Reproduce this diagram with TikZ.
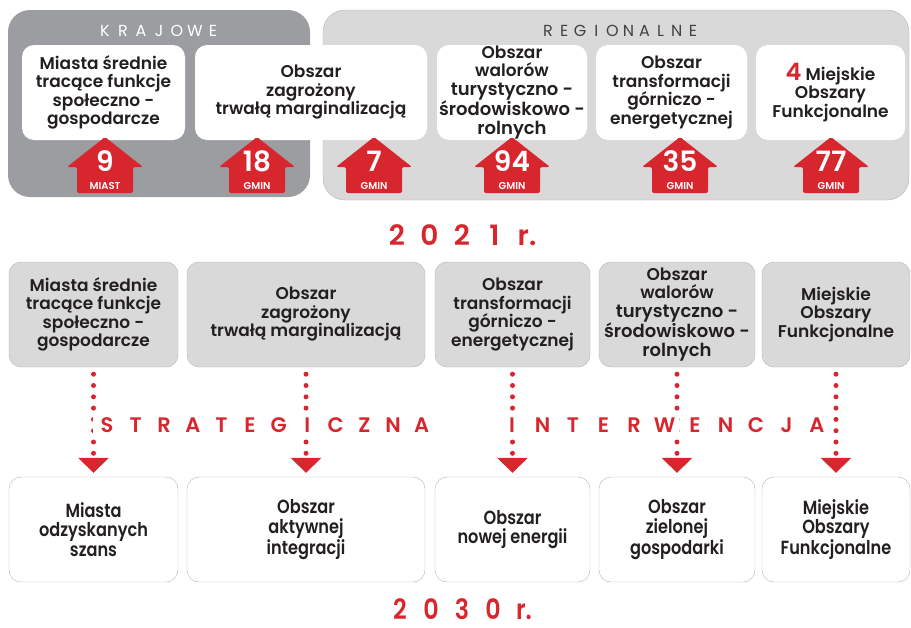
\documentclass[tikz,border=0pt]{standalone}
\usepackage{fontspec}
\setmainfont{Poppins}[BoldFont={Poppins SemiBold}]
\newfontfamily\narrowfont{Poppins}[FakeStretch=0.85,BoldFont={Poppins SemiBold}]
\usetikzlibrary{arrows.meta}
\definecolor{planred}{HTML}{D7262D}
\definecolor{darkpanel}{HTML}{9B9DA0}
\definecolor{lightpanel}{HTML}{D9D9D9}
\definecolor{panelline}{HTML}{B4B4B4}
\definecolor{ink}{HTML}{231F20}
\newcommand\cardfont{\bfseries\fontsize{17}{18.5}\selectfont}
\newcommand\cardbig{\fontsize{18}{18.5}\selectfont}
\tikzset{
  topbox/.style={fill=white,rounded corners=12pt,minimum height=95pt,align=center,inner sep=0pt,text=ink,font=\cardfont},
  midbox/.style={draw=panelline,fill=lightpanel,rounded corners=12pt,minimum height=105pt,align=center,inner sep=0pt,text=ink,font=\cardfont},
  lowbox/.style={draw=panelline,fill=white,rounded corners=12pt,minimum height=105pt,align=center,inner sep=0pt,text=ink,font=\narrowfont\bfseries\fontsize{19}{19.5}\selectfont},
  headchar/.style={inner sep=0pt,font=\fontsize{16}{16}\selectfont},
  upnum/.style={inner sep=0pt,text=white,font=\bfseries\fontsize{28}{28}\selectfont},
  upunit/.style={inner sep=0pt,text=white,font=\bfseries\fontsize{10}{10}\selectfont},
  stripchar/.style={fill=white,inner sep=0pt,minimum width=29pt,minimum height=26pt,text=planred,font=\bfseries\fontsize{21}{21}\selectfont},
  yearchar/.style={inner sep=0pt,anchor=base,text=planred,font=\bfseries\fontsize{28}{28}\selectfont},
  dotflow/.style={planred,line width=5pt,line cap=round,dash pattern=on 0pt off 11.3pt,shorten <=7pt,shorten >=4pt,-{Triangle[length=15pt,width=30pt]}}
}
\begin{document}
\begin{tikzpicture}[x=1pt,y=-1pt]
\useasboundingbox (0,0) rectangle (911,627);
% panels
\fill[darkpanel,rounded corners=22pt] (8,10) rectangle (310,197);
\draw[panelline,fill=lightpanel,rounded corners=22pt] (323,10) rectangle (909,200);
\foreach \c [count=\k from 0] in {K,R,A,J,O,W,E}
  \node[headchar,text=white] (kr\k) at (105+\k*18,31) {\c};
\foreach \c [count=\k from 0] in {R,E,G,I,O,N,A,L,N,E}
  \node[headchar,text=ink!85] (rg\k) at (548+\k*16.1,31) {\c};
% 2021
\node[topbox,minimum width=163pt] (t1) at (103.5,92.5) {Miasta średnie\\tracące funkcje\\społeczno -\\gospodarcze};
\node[topbox,minimum width=232pt] (t2) at (311,92.5) {Obszar\\zagrożony\\trwałą marginalizacją};
\node[topbox,minimum width=150pt] (t3) at (512,92.5) {Obszar\\walorów\\{\cardbig turystyczno -}\\{\cardbig środowiskowo -}\\{\cardbig rolnych}};
\node[topbox,minimum width=151pt] (t4) at (671.5,92.5) {Obszar\\transformacji\\górniczo -\\energetycznej};
\node[topbox,minimum width=149pt] (t5) at (830.5,92.5) {{\color{planred}\fontsize{24}{24}\selectfont 4} Miejskie\\Obszary\\Funkcjonalne};
\foreach \ux/\num/\unit [count=\i] in {105/9/MIAST,257/18/GMIN,374/7/GMIN,512/94/GMIN,680/35/GMIN,831/77/GMIN}{
  \fill[planred,rounded corners=2pt] (\ux-28,193) -- (\ux-28,167) -- (\ux-38,167) -- (\ux,137) -- (\ux+38,167) -- (\ux+28,167) -- (\ux+28,193) -- cycle;
  \node[upnum] (n\i) at (\ux,161) {\num};
  \node[upunit] (u\i) at (\ux,186) {\unit};
}
\foreach \c [count=\k from 0] in {2,0,2,1,r.}
  \node[yearchar] (ya\k) at (397+\k*32.5,245) {\c};
% obszary
\node[midbox,minimum width=169pt] (m1) at (93.5,314.5) {Miasta średnie\\tracące funkcje\\społeczno -\\gospodarcze};
\node[midbox,minimum width=238pt] (m2) at (306,314.5) {Obszar\\zagrożony\\trwałą marginalizacją};
\node[midbox,minimum width=155pt] (m3) at (512.5,314.5) {Obszar\\transformacji\\górniczo -\\energetycznej};
\node[midbox,minimum width=156pt] (m4) at (677,314.5) {Obszar\\walorów\\{\cardbig turystyczno -}\\{\cardbig środowiskowo -}\\{\cardbig rolnych}};
\node[midbox,minimum width=148pt] (m5) at (836,314.5) {Miejskie\\Obszary\\Funkcjonalne};
% 2030
\node[lowbox,minimum width=169pt] (b1) at (93.5,529.5) {Miasta\\odzyskanych\\szans};
\node[lowbox,minimum width=238pt] (b2) at (306,529.5) {Obszar\\aktywnej\\integracji};
\node[lowbox,minimum width=155pt] (b3) at (512.5,529.5) {Obszar\\nowej energii};
\node[lowbox,minimum width=156pt] (b4) at (677,529.5) {Obszar\\zielonej\\gospodarki};
\node[lowbox,minimum width=148pt] (b5) at (836,529.5) {Miejskie\\Obszary\\Funkcjonalne};
\foreach \i in {1,...,5}
  \draw[dotflow] (m\i.south) -- (b\i.north);
\foreach \c [count=\k from 0] in {S,T,R,A,T,E,G,I,C,Z,N,A}
  \node[stripchar] (sa\k) at (107+\k*28.6,425) {\c};
\foreach \c [count=\k from 0] in {I,N,T,E,R,W,E,N,C,J,A}
  \node[stripchar] (sb\k) at (512+\k*30.5,425) {\c};
\foreach \c [count=\k from 0] in {2,0,3,0,r.}
  \node[yearchar,font=\narrowfont\bfseries\fontsize{28}{28}\selectfont] (yb\k) at (400+\k*31,619) {\c};
\end{tikzpicture}
\end{document}
